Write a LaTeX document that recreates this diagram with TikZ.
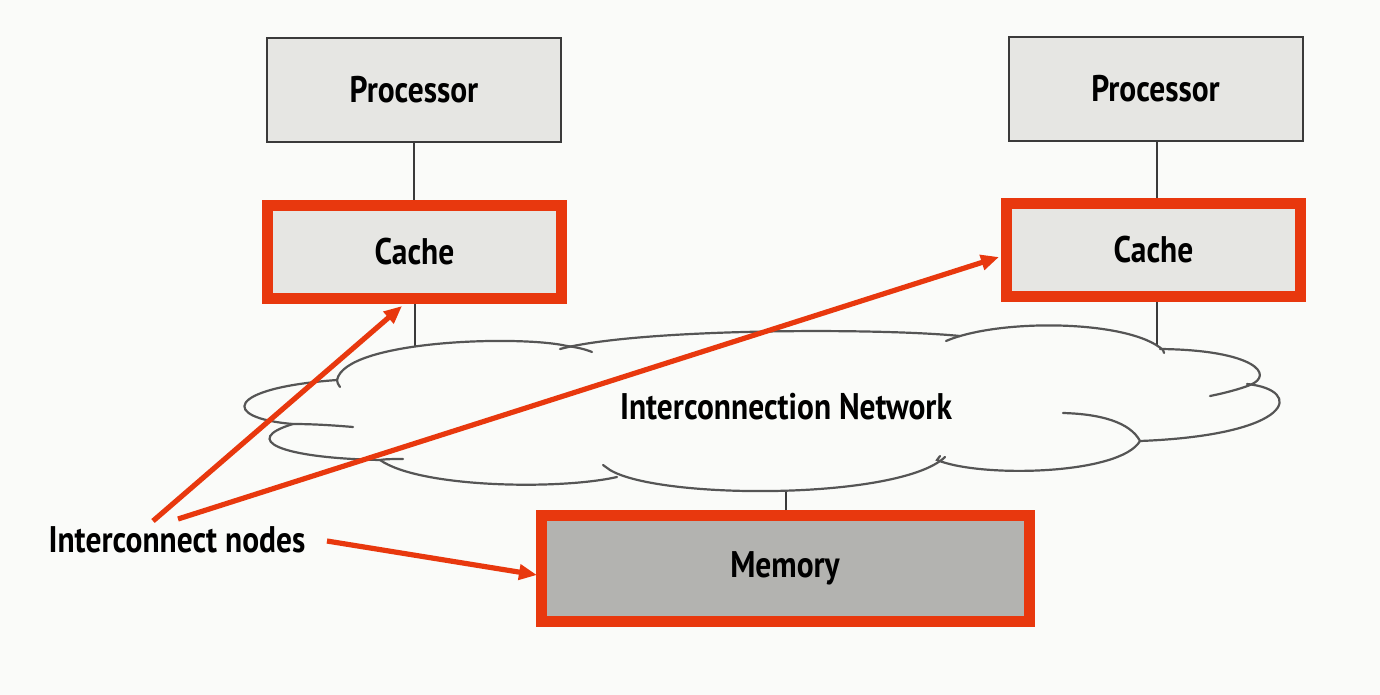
\documentclass[tikz,border=0pt]{standalone}
\usepackage{fontspec}
\setmainfont{PT Sans}[FakeStretch=0.85]
\usetikzlibrary{arrows.meta}
\definecolor{bg}{HTML}{FAFBF9}
\definecolor{boxfill}{HTML}{E6E6E3}
\definecolor{memfill}{HTML}{B3B3B0}
\definecolor{hot}{HTML}{E8380E}
\definecolor{wire}{HTML}{3A3A3A}
\definecolor{netline}{HTML}{555555}
\tikzset{
  lbl/.style={font=\fontsize{18.5}{20}\selectfont\bfseries, text=black},
  procbox/.style={lbl, draw=wire, line width=1pt, fill=boxfill,
    minimum width=147pt, minimum height=52pt, inner sep=0pt},
  hotbox/.style={lbl, draw=hot, line width=5.5pt, fill=boxfill,
    minimum width=147pt, minimum height=46.5pt, inner sep=0pt},
  membox/.style={hotbox, fill=memfill, minimum width=244pt, minimum height=53pt},
  wireline/.style={draw=wire, line width=1pt},
  cloudline/.style={draw=netline, line width=1.1pt, line cap=round},
  pointer/.style={draw=hot, line width=2.6pt,
    -{Triangle[length=9pt,width=7.5pt]}},
}
\begin{document}
\begin{tikzpicture}[x=0.5pt,y=-0.5pt]
  % page
  \fill[bg] (0,0) rectangle (1380,695);
  \useasboundingbox (0,0) rectangle (1380,695);

  % boxes
  \node[procbox] (procL) at (414,90) {Processor};
  \node[procbox] (procR) at (1155.5,89) {Processor};
  \node[hotbox] (cacheL) at (414.5,252) {Cache};
  \node[hotbox] (cacheR) at (1153.5,250) {Cache};
  \node[membox] (mem) at (785,568.5) {Memory};
  \coordinate (netc) at (786,407);

  % wires (the cloud covers their inner ends)
  \draw[wireline] (procL.south) -- (procL.south |- cacheL.north);
  \draw[wireline] (procR.south -| 1157,0) -- (1157,198);
  \draw[wireline] (cacheL.south) -- (cacheL.south |- netc);
  \draw[wireline] (1157,302) -- (1157,407);
  \draw[wireline] (786,510) -- (netc);

  % interconnection network cloud
  \path[fill=bg]
    (337,380) .. controls (345,340) and (520,335) .. (567,346)
    .. controls (640,328) and (880,328) .. (953,338)
    .. controls (1000,318) and (1130,320) .. (1163,350)
    .. controls (1255,350) and (1275,375) .. (1250,385)
    .. controls (1305,390) and (1295,435) .. (1140,441)
    .. controls (1120,475) and (980,478) .. (937,460)
    .. controls (900,500) and (660,500) .. (610,470)
    .. controls (560,490) and (420,488) .. (380,460)
    .. controls (280,458) and (240,440) .. (293,424)
    .. controls (220,418) and (225,388) .. (337,380) -- cycle;
  % lobes with their small overshooting ends
  \draw[cloudline] (340,387) .. controls (338,384) and (337,382) .. (337,380)
    .. controls (345,340) and (520,335) .. (567,346)
    .. controls (575,347) and (585,349) .. (592,352);
  \draw[cloudline] (560,349) .. controls (640,328) and (880,328) .. (960,336);
  \draw[cloudline] (946,341) .. controls (1000,318) and (1130,320) .. (1163,350)
    -- (1164,353);
  \draw[cloudline] (1160,349) .. controls (1255,350) and (1275,375) .. (1250,385)
    .. controls (1240,389) and (1225,393) .. (1210,396);
  \draw[cloudline] (1247,384) .. controls (1305,390) and (1295,435) .. (1140,441);
  \draw[cloudline] (1063,413) .. controls (1100,414) and (1130,422) .. (1140,441)
    .. controls (1120,475) and (980,478) .. (937,460) -- (940,456);
  \draw[cloudline] (945,457) .. controls (900,500) and (660,500) .. (610,470)
    -- (603,465);
  \draw[cloudline] (617,477) .. controls (560,490) and (420,488) .. (380,460);
  \draw[cloudline] (403,459) .. controls (395,459) and (385,459) .. (380,460)
    .. controls (280,458) and (240,440) .. (293,424);
  \draw[cloudline] (353,427) .. controls (330,425) and (310,424) .. (293,424)
    .. controls (220,418) and (225,388) .. (337,380);
  \node[lbl] (net) at (netc) {Interconnection Network};

  % annotation and its pointers
  \node[lbl] (ann) at (177,540) {Interconnect nodes};
  \coordinate (a1) at (153,521);
  \coordinate (a2) at (178,519);
  \coordinate (a3) at (327,541);
  \coordinate (t1) at (402,306);
  \coordinate (t2) at (999,257);
  \coordinate (t3) at (537,575);
  \draw[pointer] (a1) -- (t1);
  \draw[pointer] (a2) -- (t2);
  \draw[pointer] (a3) -- (t3);
\end{tikzpicture}
\end{document}
